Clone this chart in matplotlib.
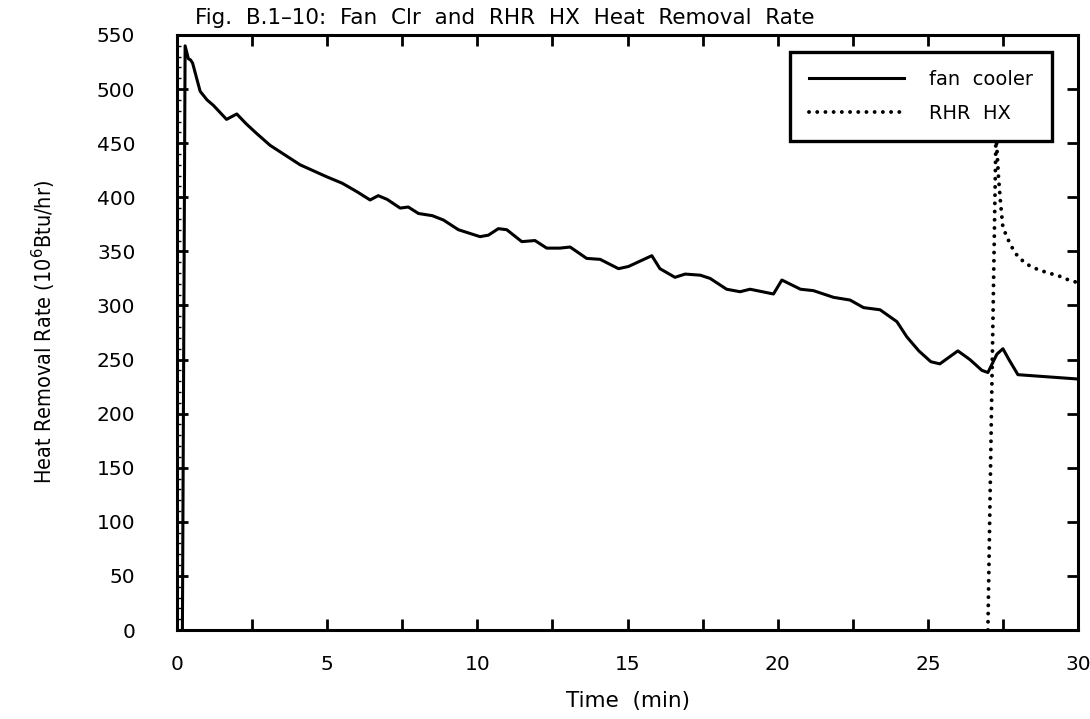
import matplotlib
matplotlib.use("Agg")
import matplotlib.pyplot as plt
from matplotlib.ticker import FixedLocator, FuncFormatter, MultipleLocator

# ---- data ----
fan_t = [0.18, 0.27, 0.38, 0.45, 0.52, 0.77, 1.0, 1.21, 1.65, 1.99, 2.3, 2.65, 3.1,
         4.1, 4.98, 5.5, 6.0, 6.43, 6.7, 7.0, 7.43, 7.7, 8.04, 8.5, 8.87, 9.37,
         10.09, 10.37, 10.7, 10.98, 11.48, 11.92, 12.31, 12.75, 13.09, 13.64,
         14.09, 14.7, 15.03, 15.81, 16.08, 16.58, 16.92, 17.42, 17.75, 18.3,
         18.75, 19.08, 19.86, 20.14, 20.76, 21.19, 21.86, 22.41, 22.86, 23.41,
         23.97, 24.3, 24.7, 25.1, 25.4, 25.7, 26.0, 26.4, 26.8, 27.0, 27.3,
         27.5, 27.7, 28.0, 28.5, 29.0, 30.0]
fan_q = [0, 540, 528, 527, 524, 498, 490, 485, 472, 477, 468, 459, 448,
         430, 419, 413, 405, 397.5, 401.5, 398, 390, 391, 385, 383, 379, 370,
         363.6, 365, 371, 370, 359, 360, 353, 353, 354, 343.5,
         342.6, 334, 336, 346, 334, 326, 329, 328, 325, 315,
         312.7, 315, 310.6, 323.5, 315, 313.7, 307.5, 305, 298, 296,
         285, 271, 258, 248, 246, 252, 258, 250, 240, 238, 255,
         260, 250, 236, 235, 234, 232]

rhr_t = [27.0, 27.27, 27.35, 27.42, 27.5, 27.75, 28.0, 28.3, 28.6, 29.0,
         29.3, 29.65, 30.0]
rhr_q = [0, 460, 420, 395, 372, 356, 345, 338, 334, 330, 328, 324, 321]

x_ticks = [0, 2.5, 5, 7.5, 10, 12.5, 15, 17.5, 20, 22.5, 25, 27.5, 30]
y_ticks = [0, 50, 100, 150, 200, 250, 300, 350, 400, 450, 500, 550]

title = "Fig.  B.1\u201310:  Fan  Clr  and  RHR  HX  Heat  Removal  Rate"
series_names = ["fan  cooler", "RHR  HX"]

# ---- figure ----
fig = plt.figure(figsize=(10.9, 7.19), dpi=100)
ax = fig.add_axes([177 / 1090, 1 - 630 / 719, 901 / 1090, 595 / 719])

ax.plot(fan_t, fan_q, color="black", lw=2.2, label=series_names[0],
        solid_joinstyle="round")
ax.plot(rhr_t, rhr_q, color="black", lw=2.8, linestyle=(0, (0.01, 2.1)),
        dash_capstyle="round", label=series_names[1])

ax.set_xlim(0, 30)
ax.set_ylim(0, 550)

ax.xaxis.set_major_locator(FixedLocator(x_ticks))
ax.xaxis.set_major_formatter(FuncFormatter(
    lambda v, p: (f"{int(v)}" if abs(v % 5) < 1e-9 else "")))
ax.yaxis.set_major_locator(FixedLocator(y_ticks))
ax.yaxis.set_minor_locator(MultipleLocator(10))

ax.tick_params(axis="both", which="major", direction="in", length=8, width=2,
               top=True, right=True, labelsize=14.5)
ax.tick_params(axis="y", which="minor", direction="in", length=3, width=1,
               left=True, right=False)
ax.tick_params(axis="x", pad=18)
ax.tick_params(axis="y", pad=30)

for s in ax.spines.values():
    s.set_linewidth(2.2)

leg = ax.legend(loc="upper right", bbox_to_anchor=(0.971, 0.972),
                borderaxespad=0, fancybox=False, edgecolor="black",
                fontsize=14, handlelength=4.9, handletextpad=1.3,
                borderpad=0.95, labelspacing=0.75, framealpha=1)
leg.get_frame().set_linewidth(2.4)

fig.text(195 / 1090, 1 - 18 / 719, title, ha="left", va="center", fontsize=15.5)
ax.set_xlabel("Time  (min)", fontsize=15.5, labelpad=12)
ax.set_ylabel(r"Heat Removal Rate (10$^6$Btu/hr)", fontsize=15.5,
              fontstretch="condensed", labelpad=28)

fig.savefig("out.png", dpi=100)
